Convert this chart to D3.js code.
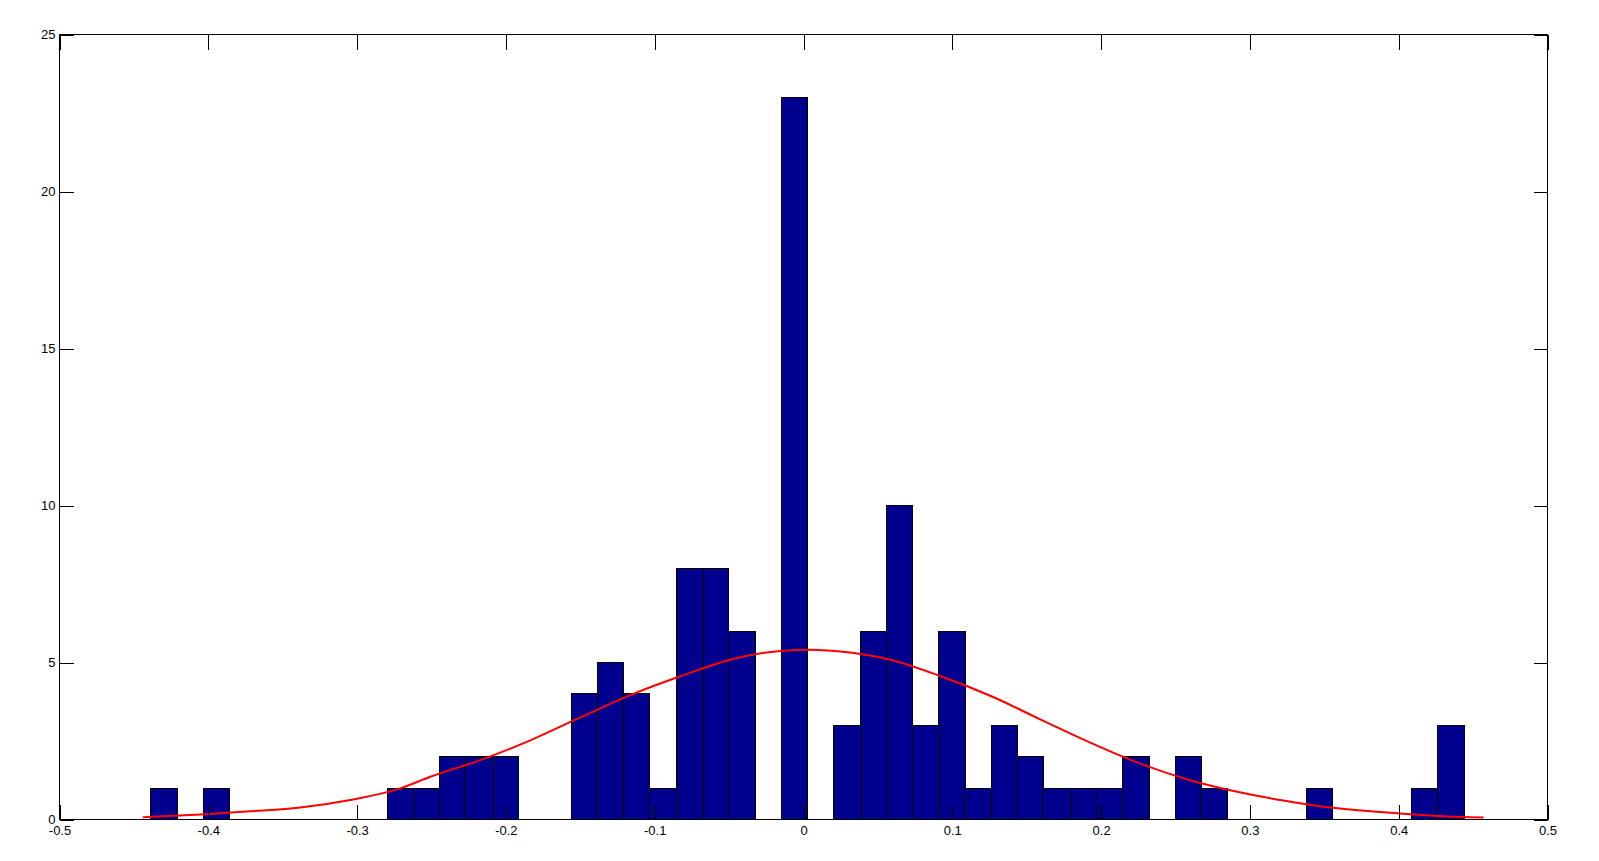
<!DOCTYPE html>
<html>
<head>
<meta charset="utf-8">
<script src="https://cdn.jsdelivr.net/npm/d3@7"></script>
<style>
  html, body { margin: 0; padding: 0; background: #ffffff; }
  svg { display: block; }
  text { font-family: "Liberation Sans", Arial, Helvetica, sans-serif; }
</style>
</head>
<body>
<svg id="chart" width="1599" height="861"></svg>
<script>
// ---- data ----
const binCenters = [
  -0.4298, -0.4121, -0.3945, -0.3768, -0.3592, -0.3415, -0.3239, -0.3062, -0.2886, -0.2709,
  -0.2533, -0.2356, -0.2180, -0.2003, -0.1827, -0.1650, -0.1473, -0.1297, -0.1120, -0.0944,
  -0.0767, -0.0591, -0.0414, -0.0238, -0.0061, 0.0115, 0.0292, 0.0468, 0.0645, 0.0821,
  0.0998, 0.1174, 0.1351, 0.1527, 0.1704, 0.1881, 0.2057, 0.2234, 0.2410, 0.2587,
  0.2763, 0.2940, 0.3116, 0.3293, 0.3469, 0.3646, 0.3822, 0.3999, 0.4175, 0.4352
];
const binCounts = [
  1, 0, 1, 0, 0, 0, 0, 0, 0, 1,
  1, 2, 2, 2, 0, 0, 4, 5, 4, 1,
  8, 8, 6, 0, 23, 0, 3, 6, 10, 3,
  6, 1, 3, 2, 1, 1, 1, 2, 0, 2,
  1, 0, 0, 0, 1, 0, 0, 0, 1, 3
];
const binWidth = 0.01765;

// fitted normal curve
const fitX = [
  -0.4440, -0.4054, -0.3718, -0.3382, -0.3046, -0.2710, -0.2508, -0.2172, -0.1836, -0.1500,
  -0.1164, -0.0828, -0.0492, -0.0156, 0.0046, 0.0247, 0.0583, 0.0919, 0.1255, 0.1591,
  0.1927, 0.2263, 0.2599, 0.2868, 0.3204, 0.3540, 0.3876, 0.4212, 0.4481, 0.4570
];
const fitY = [
  0.07, 0.16, 0.26, 0.38, 0.62, 0.99, 1.36, 1.89, 2.52, 3.25,
  3.96, 4.56, 5.09, 5.37, 5.41, 5.35, 5.09, 4.57, 3.94, 3.19,
  2.45, 1.78, 1.25, 0.93, 0.62, 0.38, 0.24, 0.13, 0.07, 0.06
];

const xTicks = [-0.5, -0.4, -0.3, -0.2, -0.1, 0, 0.1, 0.2, 0.3, 0.4, 0.5];
const xTickLabels = ["-0.5", "-0.4", "-0.3", "-0.2", "-0.1", "0", "0.1", "0.2", "0.3", "0.4", "0.5"];
const yTicks = [0, 5, 10, 15, 20, 25];
const yTickLabels = ["0", "5", "10", "15", "20", "25"];

// ---- layout ----
const L = 59.5, R = 1547.5, T = 34.5, B = 819.5;
const svg = d3.select("#chart");
svg.append("rect").attr("width", 1599).attr("height", 861).attr("fill", "#ffffff");

const x = d3.scaleLinear().domain([-0.5, 0.5]).range([L, R]);
const y = d3.scaleLinear().domain([0, 25]).range([B, T]);

// bars
const bins = binCenters.map((c, i) => ({ c: c, n: binCounts[i] })).filter(d => d.n > 0);
svg.append("g")
  .selectAll("rect")
  .data(bins)
  .join("rect")
  .attr("x", d => x(d.c - binWidth / 2))
  .attr("width", d => x(d.c + binWidth / 2) - x(d.c - binWidth / 2))
  .attr("y", d => y(d.n))
  .attr("height", d => y(0) - y(d.n))
  .attr("fill", "#00008F")
  .attr("stroke", "#000000")
  .attr("stroke-width", 1)
  .attr("shape-rendering", "crispEdges");

// fitted curve
const pts = fitX.map((v, i) => [v, fitY[i]]);
svg.append("path")
  .datum(pts)
  .attr("d", d3.line().x(d => x(d[0])).y(d => y(d[1])).curve(d3.curveMonotoneX))
  .attr("fill", "none")
  .attr("stroke", "#FF0000")
  .attr("stroke-width", 2);

// axes
function styleAxis(g) {
  g.select(".domain").remove();
  g.selectAll(".tick line").attr("stroke", "#000000").attr("shape-rendering", "crispEdges");
  g.selectAll(".tick text").attr("fill", "#000000").style("font-size", "13px");
}

svg.append("g")
  .attr("transform", `translate(0,${B})`)
  .call(d3.axisBottom(x).tickValues(xTicks).tickSizeInner(-15).tickSizeOuter(0).tickPadding(6)
    .tickFormat((d, i) => xTickLabels[i]))
  .call(styleAxis);

svg.append("g")
  .attr("transform", `translate(0,${T})`)
  .call(d3.axisTop(x).tickValues(xTicks).tickSizeInner(-15).tickSizeOuter(0).tickFormat(""))
  .call(styleAxis);

svg.append("g")
  .attr("transform", `translate(${L},0)`)
  .call(d3.axisLeft(y).tickValues(yTicks).tickSizeInner(-14).tickSizeOuter(0).tickPadding(4)
    .tickFormat((d, i) => yTickLabels[i]))
  .call(styleAxis);

svg.append("g")
  .attr("transform", `translate(${R},0)`)
  .call(d3.axisRight(y).tickValues(yTicks).tickSizeInner(-14).tickSizeOuter(0).tickFormat(""))
  .call(styleAxis);

// box
svg.append("rect")
  .attr("x", L).attr("y", T)
  .attr("width", R - L).attr("height", B - T)
  .attr("fill", "none")
  .attr("stroke", "#000000")
  .attr("stroke-width", 1)
  .attr("shape-rendering", "crispEdges");
</script>
</body>
</html>
